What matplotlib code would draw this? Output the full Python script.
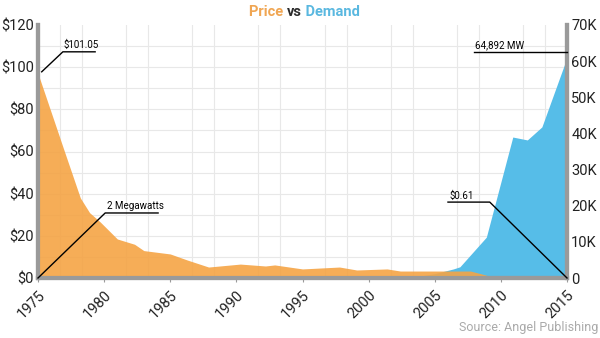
import matplotlib
matplotlib.use("Agg")
import matplotlib.pyplot as plt
import numpy as np

# 価格データ (左軸, $)
price_years = [1975, 1976, 1977, 1978.2, 1978.9, 1979.7, 1981, 1982.3, 1983, 1985,
               1986.3, 1987.9, 1990.3, 1992.2, 1992.9, 1995, 1997.8, 1999.1, 2001.4,
               2002.4, 2005.6, 2007.7, 2008.5, 2009.3, 2015]
price_values = [97, 78.5, 60, 38, 31, 26.6, 18.5, 16, 13, 11.4,
                8.5, 5.2, 6.6, 5.7, 6.2, 4.3, 5.2, 3.8, 4.3,
                3.3, 3.3, 3.3, 2.0, 0.6, 0.61]

# 需要データ (右軸, MW)
demand_years = [1975, 2003, 2005, 2006.4, 2006.9, 2008.9, 2010.9, 2012, 2013.1, 2015]
demand_values = [0, 0, 1200, 2500, 3100, 11300, 39000, 38200, 41800, 61000]

year_ticks = list(range(1975, 2016, 5))
price_ticks = [0, 20, 40, 60, 80, 100, 120]
price_labels = ["$0", "$20", "$40", "$60", "$80", "$100", "$120"]
demand_ticks = [0, 10000, 20000, 30000, 40000, 50000, 60000, 70000]
demand_labels = ["0", "10K", "20K", "30K", "40K", "50K", "60K", "70K"]

orange = "#f5a445"
blue = "#56bde8"
spine_c = "#9a9a9a"

plt.rcParams['font.family'] = ['Roboto', 'DejaVu Sans']

fig = plt.figure(figsize=(6, 3.38), dpi=100)
ax = fig.add_axes([38/600, 1-278/338, 529/600, 253/338])
ax2 = ax.twinx()

# 需要を下に、価格を上に重ねる
ax.set_zorder(2)
ax.patch.set_visible(False)
ax2.set_zorder(1)
ax2.fill_between(demand_years, demand_values, 0, color=blue, lw=0)
ax.fill_between(price_years, price_values, 0, color=orange, alpha=0.9, lw=0)

ax.set_xlim(1975, 2015)
ax.set_ylim(0, 120)
ax2.set_ylim(0, 70000)

# グリッド (下側の軸に描く)
ax2.xaxis.set_visible(True)
ax.set_xticks(np.linspace(1975, 2015, 25), minor=True)
ax2.set_yticks(np.arange(0, 70001, 70000/12), minor=True)
ax2.grid(True, which='minor', color="#e8e8e8", lw=0.8)
ax2.set_axisbelow(True)

ax.set_xticks(year_ticks)
ax.set_xticklabels([str(y) for y in year_ticks], rotation=45, ha='right',
                   rotation_mode='anchor', fontsize=10.5)
ax.set_yticks(price_ticks)
ax.set_yticklabels(price_labels, fontsize=10.5)
ax2.set_yticks(demand_ticks)
ax2.set_yticklabels(demand_labels, fontsize=10.5)
ax.tick_params(axis='both', which='both', length=0, pad=3, colors="#222222")
ax2.tick_params(axis='both', which='both', length=0, pad=3, colors="#222222")
ax2.tick_params(axis='x', labelbottom=False)
ax.tick_params(axis='x', which='major', length=3, color=spine_c, pad=4)

for a in (ax, ax2):
    a.spines['top'].set_visible(False)
    for s in ('left', 'right', 'bottom'):
        a.spines[s].set_color(spine_c)
        a.spines[s].set_linewidth(3)

# 注釈
def callout(pts, text, tx, ty):
    xs, ys = zip(*pts)
    ax.plot(xs, ys, color="black", lw=1, transform=ax.transAxes, clip_on=False, zorder=5)
    ax.text(tx, ty, text, transform=ax.transAxes, fontsize=7, ha='left', va='bottom', zorder=5)

callout([(0.007, 0.815), (0.047, 0.894), (0.108, 0.894)], "$101.05", 0.049, 0.9)
callout([(0.0, 0.0), (0.127, 0.257), (0.227, 0.257)], "2 Megawatts", 0.131, 0.263)
callout([(1.0, 0.0), (0.854, 0.30), (0.775, 0.30)], "$0.61", 0.777, 0.306)
callout([(0.824, 0.893), (1.0, 0.893)], "64,892 MW", 0.826, 0.899)

# タイトル
t1 = fig.text(0.49, 1-16/338, "vs", fontsize=10.5, fontweight='bold', color="#2b2b2b",
              ha='center', va='baseline')
ax.annotate(" Demand", xy=(1, 0), xycoords=t1, fontsize=10.5, fontweight='bold',
            color="#5ab8e0", ha='left', va='bottom', annotation_clip=False)
ax.annotate("Price ", xy=(0, 0), xycoords=t1, fontsize=10.5, fontweight='bold',
            color="#f0a653", ha='right', va='bottom', annotation_clip=False)

fig.text(598/600, 1-331/338, "Source: Angel Publishing", fontsize=9, color="#aaaaaa",
         ha='right', va='baseline')

plt.savefig("out.png", dpi=100)
